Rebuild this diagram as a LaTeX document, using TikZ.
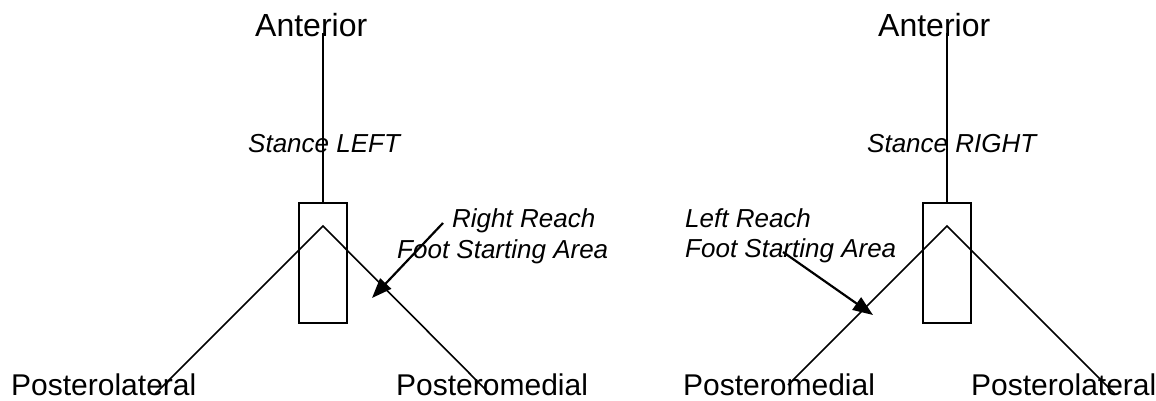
\documentclass[tikz,border=0pt]{standalone}
\usepackage{fontspec}
\setmainfont{Liberation Sans}
\usetikzlibrary{arrows.meta}
\begin{document}
\begin{tikzpicture}[x=1pt,y=-1pt,
  lbl/.style={inner sep=0pt,anchor=base west,font=\fontsize{30}{36}\selectfont},
  biglbl/.style={lbl,font=\fontsize{32}{38}\selectfont},
  ilbl/.style={inner sep=0pt,anchor=base west,font=\fontsize{26}{31}\selectfont\itshape},
  foot/.style={draw,line width=1.8pt,minimum width=48pt,minimum height=120pt,inner sep=0pt},
  ray/.style={line width=1.6pt},
  reach/.style={line width=2.2pt,-{Triangle[length=20pt,width=15pt]}}]
\useasboundingbox (0,0) rectangle (1156,401);

% ---- stance left ----
\node[biglbl] (antL) at (255,37) {Anterior};
\node[ilbl] (stL) at (248,153) {Stance LEFT};
\node[foot] (footL) at (323,263) {};
\coordinate (topL) at (323,33);
\coordinate (apexL) at (323,226);
\coordinate (endLl) at (155,394);
\coordinate (endLr) at (490,394);
\node[lbl] (plL) at (11,395) {Posterolateral};
\node[lbl] (pmL) at (396,395) {Posteromedial};
\node[ilbl] (rr1) at (452,227) {Right Reach};
\node[ilbl] (rr2) at (397,258) {Foot Starting Area};
\coordinate (rrStart) at (443,223);
\coordinate (rrTip) at (372,298);
\draw[ray] (topL) -- (footL.north);
\draw[ray] (endLl) -- (apexL) -- (endLr);
\draw[reach] (rrStart) -- (rrTip);

% ---- stance right ----
\node[biglbl] (antR) at (878,37) {Anterior};
\node[ilbl] (stR) at (867,153) {Stance RIGHT};
\node[foot] (footR) at (947,263) {};
\coordinate (topR) at (947,33);
\coordinate (apexR) at (947,226);
\coordinate (endRl) at (788,385);
\coordinate (endRr) at (1115,394);
\node[lbl] (pmR) at (683,395) {Posteromedial};
\node[lbl] (plR) at (971,395) {Posterolateral};
\node[ilbl] (lr1) at (685,227) {Left Reach};
\node[ilbl] (lr2) at (685,257) {Foot Starting Area};
\coordinate (lrStart) at (783,252);
\coordinate (lrTip) at (873,315);
\draw[ray] (topR) -- (footR.north);
\draw[ray] (endRl) -- (apexR) -- (endRr);
\draw[reach] (lrStart) -- (lrTip);
\end{tikzpicture}
\end{document}
